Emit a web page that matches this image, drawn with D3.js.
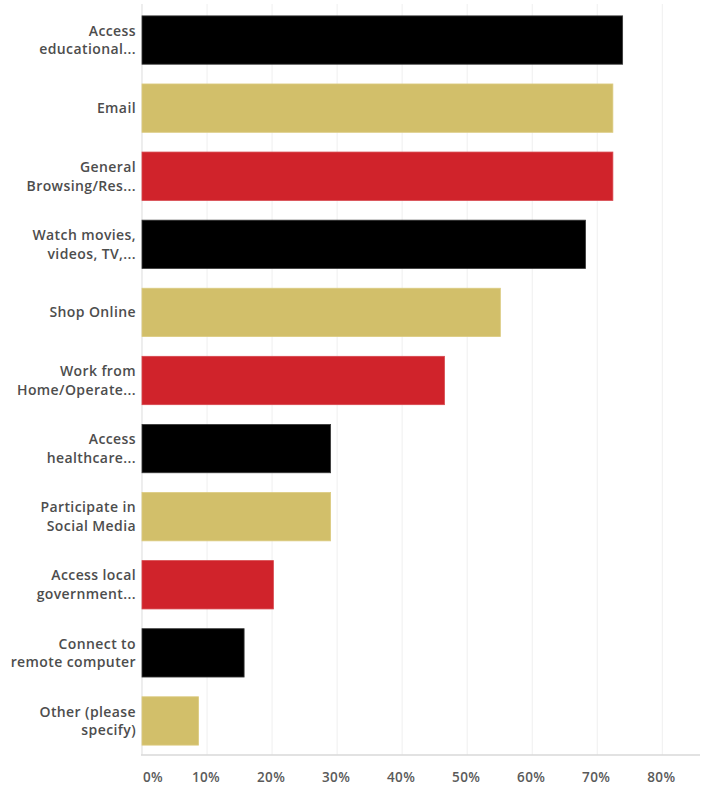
<!DOCTYPE html>
<html>
<head>
<meta charset="utf-8">
<script src="https://cdn.jsdelivr.net/npm/d3@7"></script>
<style>
  html, body { margin: 0; padding: 0; background: #ffffff; }
  svg { display: block; }
  text { font-family: "Open Sans", "Noto Sans", sans-serif; }
</style>
</head>
<body>
<svg id="chart" width="703" height="785"></svg>
<script>
// ---- data ----
const categories = [
  ["Access", "educational..."],
  ["Email"],
  ["General", "Browsing/Res..."],
  ["Watch movies,", "videos, TV,..."],
  ["Shop Online"],
  ["Work from", "Home/Operate..."],
  ["Access", "healthcare..."],
  ["Participate in", "Social Media"],
  ["Access local", "government..."],
  ["Connect to", "remote computer"],
  ["Other (please", "specify)"]
];
const values = [73.9, 72.4, 72.4, 68.2, 55.1, 46.5, 29.0, 29.0, 20.2, 15.7, 8.7];
const barColors = ["#000000", "#d2bf6a", "#d0232b"];
const tickValues = [0, 10, 20, 30, 40, 50, 60, 70, 80];
const tickLabels = ["0%", "10%", "20%", "30%", "40%", "50%", "60%", "70%", "80%"];

// ---- layout ----
const svg = d3.select("#chart");
const x0 = 142, xEnd = 700;
const x = d3.scaleLinear().domain([0, 80]).range([x0, 662.3]);
const y = d3.scaleBand()
  .domain(d3.range(categories.length))
  .range([6, 755])
  .paddingInner(0.29)
  .paddingOuter(0.145);

// gridlines
svg.append("g").selectAll("line")
  .data(tickValues.slice(1))
  .join("line")
  .attr("x1", d => x(d)).attr("x2", d => x(d))
  .attr("y1", 4).attr("y2", 755)
  .attr("stroke", "#efefef").attr("stroke-width", 1);

// left axis line
svg.append("line")
  .attr("x1", x0).attr("x2", x0).attr("y1", 4).attr("y2", 755)
  .attr("stroke", "#e2e2e2").attr("stroke-width", 1.2);

// bars
svg.append("g").selectAll("rect")
  .data(values)
  .join("rect")
  .attr("x", x(0))
  .attr("y", (d, i) => y(i))
  .attr("width", d => x(d) - x(0))
  .attr("height", y.bandwidth())
  .attr("fill", (d, i) => barColors[i % 3])
  .attr("stroke", (d, i) => i % 3 === 0 ? "#3a3a3a" : (i % 3 === 1 ? "#dccb80" : "#d8474d"))
  .attr("stroke-width", 0.8);

// bottom axis line
svg.append("line")
  .attr("x1", x0 - 1).attr("x2", xEnd).attr("y1", 755).attr("y2", 755)
  .attr("stroke", "#d9d9d9").attr("stroke-width", 1.5);

// category labels
const lab = svg.append("g").selectAll("text")
  .data(categories)
  .join("text")
  .attr("text-anchor", "end")
  .attr("fill", "#4d4d4d")
  .attr("font-size", 14)
  .attr("font-weight", 600)
  .attr("letter-spacing", 0.4)
  .attr("x", 136)
  .attr("y", (d, i) => y(i) + y.bandwidth() / 2);
lab.each(function(d) {
  const t = d3.select(this);
  const n = d.length;
  d.forEach((line, k) => {
    t.append("tspan")
      .attr("x", 136)
      .attr("dy", k === 0 ? (-(n - 1) * 18.6 / 2 + 5) : 18.6)
      .text(line);
  });
});

// tick labels
svg.append("g").selectAll("text")
  .data(tickValues)
  .join("text")
  .attr("x", (d, i) => i === 0 ? x(d) + 11 : x(d) - 1)
  .attr("y", 782)
  .attr("text-anchor", "middle")
  .attr("fill", "#5a5a5a")
  .attr("font-size", 13.5)
  .attr("font-weight", 600)
  .attr("letter-spacing", 0.4)
  .text((d, i) => tickLabels[i]);
</script>
</body>
</html>
